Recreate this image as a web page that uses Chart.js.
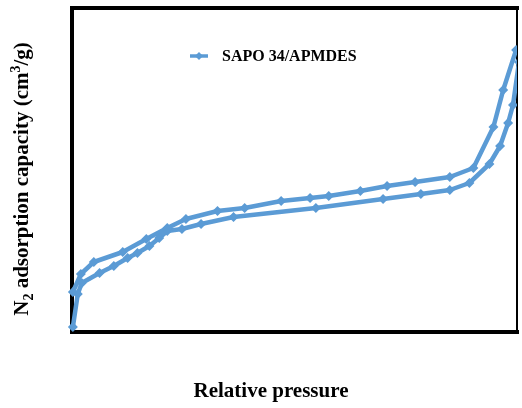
<!DOCTYPE html>
<html>
<head>
<meta charset="utf-8">
<script src="https://cdn.jsdelivr.net/npm/chart.js@4/dist/chart.umd.min.js"></script>
<style>
  html, body { margin: 0; padding: 0; background: #ffffff; }
  #wrap { width: 522px; height: 408px; }
</style>
</head>
<body>
<div id="wrap"><canvas id="c" width="522" height="408"></canvas></div>
<script>
// Relative pressure (P/P0) along the measured loop: adsorption branch, then desorption branch back
const relPressure = [
  0.002, 0.013, 0.022, 0.062, 0.094, 0.125, 0.147, 0.174, 0.196, 0.214,
  0.247, 0.290, 0.363, 0.548, 0.699, 0.784, 0.849, 0.893, 0.938, 0.962,
  0.980, 0.991, 1.0045, 1.0067,
  0.998, 0.969, 0.947, 0.902, 0.849, 0.771, 0.708, 0.648, 0.577, 0.535,
  0.470, 0.388, 0.327, 0.256, 0.214, 0.167, 0.114, 0.049, 0.020, 0.002
];
// N2 adsorbed quantity (arbitrary units, axis has no tick labels)
const adsorbed = [
  2.5, 19, 24.5, 29.5, 33, 37, 39.5, 43, 47, 50.5,
  51.5, 54, 57.5, 62, 66.5, 69, 71, 74.5, 84, 93,
  104.5, 113.5, 135, 142,
  141, 121, 102.5, 82, 77.5, 75, 73, 70.5, 68, 67,
  65.5, 62, 60.5, 56.5, 52, 46.5, 40, 35, 29, 20
];
const seriesName = 'SAPO 34/APMDES';
const xTitle = 'Relative pressure';
const yTitleParts = [
  { t: 'N', k: 'n' }, { t: '2', k: 'sub' },
  { t: ' adsorption capacity (cm', k: 'n' }, { t: '3', k: 'sup' },
  { t: '/g)', k: 'n' }
];
const xRange = [0, 1];
const yRange = [0, 162];

const blue = '#5B9BD5';
const points = relPressure.map((x, i) => ({ x: x, y: adsorbed[i] }));

const framePlugin = {
  id: 'frame',
  beforeDatasetsDraw(chart) {
    const { ctx, chartArea: a } = chart;
    ctx.save();
    ctx.strokeStyle = '#000';
    ctx.lineCap = 'square';
    ctx.lineWidth = 4;
    ctx.beginPath();
    ctx.moveTo(a.right, a.top); ctx.lineTo(a.left, a.top);
    ctx.lineTo(a.left, a.bottom); ctx.lineTo(a.right, a.bottom);
    ctx.stroke();
    ctx.lineWidth = 2;
    ctx.beginPath();
    ctx.moveTo(a.right, a.top); ctx.lineTo(a.right, a.bottom);
    ctx.stroke();
    ctx.restore();
  }
};

const textPlugin = {
  id: 'texts',
  afterDraw(chart) {
    const { ctx, chartArea: a } = chart;
    ctx.save();
    ctx.fillStyle = '#000';
    // x title
    ctx.font = 'bold 21px "Liberation Serif", "Times New Roman", serif';
    ctx.textAlign = 'center';
    ctx.textBaseline = 'alphabetic';
    ctx.fillText(xTitle, a.left + 199, a.bottom + 65);

    // y title with sub/superscript
    const big = 'bold 21px "Liberation Serif", "Times New Roman", serif';
    const small = 'bold 14px "Liberation Serif", "Times New Roman", serif';
    let total = 0;
    yTitleParts.forEach(p => { ctx.font = p.k === 'n' ? big : small; total += ctx.measureText(p.t).width; });
    ctx.translate(27.5, a.top + 171);
    ctx.rotate(-Math.PI / 2);
    ctx.textAlign = 'left';
    let cx = -total / 2;
    yTitleParts.forEach(p => {
      ctx.font = p.k === 'n' ? big : small;
      const dy = p.k === 'sub' ? 5 : (p.k === 'sup' ? -8 : 0);
      ctx.fillText(p.t, cx, dy);
      cx += ctx.measureText(p.t).width;
    });
    ctx.restore();

    // legend
    ctx.save();
    const lx = a.left + 118, ly = a.top + 48;
    ctx.strokeStyle = blue;
    ctx.lineWidth = 3.5;
    ctx.beginPath(); ctx.moveTo(lx, ly); ctx.lineTo(lx + 18, ly); ctx.stroke();
    ctx.fillStyle = blue;
    ctx.beginPath();
    ctx.moveTo(lx + 9, ly - 4); ctx.lineTo(lx + 13, ly); ctx.lineTo(lx + 9, ly + 4); ctx.lineTo(lx + 5, ly);
    ctx.closePath(); ctx.fill();
    ctx.fillStyle = '#000';
    ctx.font = 'bold 16px "Liberation Serif", "Times New Roman", serif';
    ctx.textAlign = 'left';
    ctx.textBaseline = 'middle';
    ctx.fillText(seriesName, lx + 32, ly + 1);
    ctx.restore();
  }
};

new Chart(document.getElementById('c'), {
  type: 'scatter',
  data: {
    datasets: [{
      label: seriesName,
      data: points,
      showLine: true,
      borderColor: blue,
      backgroundColor: blue,
      borderWidth: 4.5,
      borderJoinStyle: 'round',
      borderCapStyle: 'round',
      tension: 0,
      pointStyle: 'rectRot',
      pointRadius: 5,
      pointBorderWidth: 0,
      pointBackgroundColor: blue,
      clip: { left: 10, top: 10, right: 0, bottom: 10 }
    }]
  },
  options: {
    responsive: false,
    animation: false,
    devicePixelRatio: 1,
    layout: { padding: { left: 72, top: 8, right: 1, bottom: 76 } },
    plugins: { legend: { display: false }, tooltip: { enabled: false } },
    scales: {
      x: { type: 'linear', min: xRange[0], max: xRange[1], display: false },
      y: { type: 'linear', min: yRange[0], max: yRange[1], display: false }
    }
  },
  plugins: [framePlugin, textPlugin]
});
</script>
</body>
</html>
